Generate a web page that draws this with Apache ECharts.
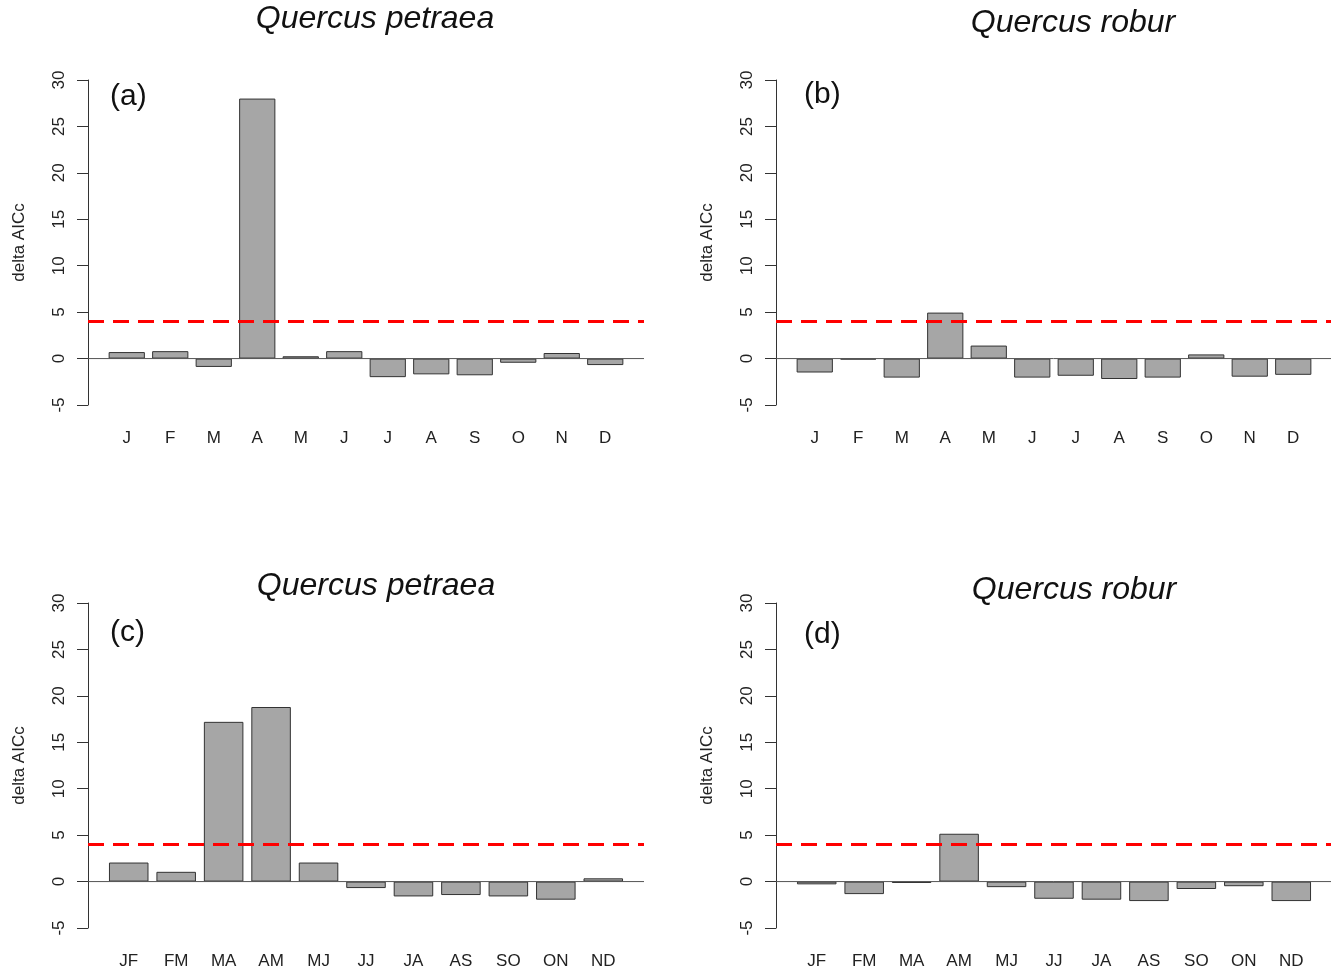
<!DOCTYPE html>
<html>
<head>
<meta charset="utf-8">
<script src="https://cdn.jsdelivr.net/npm/echarts@6/dist/echarts.min.js"></script>
<style>
html,body{margin:0;padding:0;background:#fff;}
#chart{width:1331px;height:976px;}
</style>
</head>
<body>
<div id="chart"></div>
<script>
// ---- data ----
const months = ['J','F','M','A','M','J','J','A','S','O','N','D'];
const monthPairs = ['JF','FM','MA','AM','MJ','JJ','JA','AS','SO','ON','ND'];
const petraeaMonthly = [0.7, 0.8, -0.9, 28.0, 0.25, 0.8, -2.0, -1.7, -1.8, -0.45, 0.6, -0.7];
const roburMonthly   = [-1.5, -0.1, -2.05, 4.95, 1.4, -2.05, -1.85, -2.2, -2.05, 0.45, -1.95, -1.75];
const petraeaPairs   = [2.05, 1.05, 17.2, 18.8, 2.05, -0.7, -1.6, -1.45, -1.6, -1.95, 0.35];
const roburPairs     = [-0.3, -1.35, -0.15, 5.15, -0.6, -1.85, -1.95, -2.1, -0.8, -0.5, -2.1];
const threshold = 4;
const yMin = -5, yMax = 30, yStep = 5;
const yName = 'delta AICc';
const titles = ['Quercus petraea', 'Quercus robur', 'Quercus petraea', 'Quercus robur'];
const tags = ['(a)', '(b)', '(c)', '(d)'];

// ---- layout ----
const FONT = "'Liberation Sans', Arial, Helvetica, sans-serif";
const panels = [
  {left: 88,  top: 80,  cats: months,     vals: petraeaMonthly, title: [375, 19],  tag: [110, 97]},
  {left: 776, top: 80,  cats: months,     vals: roburMonthly,   title: [1073, 23], tag: [804, 95]},
  {left: 88,  top: 603, cats: monthPairs, vals: petraeaPairs,   title: [376, 586], tag: [110, 633]},
  {left: 776, top: 603, cats: monthPairs, vals: roburPairs,     title: [1074, 590], tag: [804, 635]}
];
const W = 556, H = 325, PAD = 17;

const grid = [], xAxis = [], yAxis = [], series = [], graphic = [];
panels.forEach((p, k) => {
  const go = 2 * k, gi = 2 * k + 1;
  grid.push({left: p.left, top: p.top, width: W, height: H});
  grid.push({left: p.left + PAD, top: p.top, width: W - 2 * PAD, height: H});
  xAxis.push({type: 'value', gridIndex: go, min: 0, max: 1, show: false});
  yAxis.push({
    type: 'value', gridIndex: go, min: yMin, max: yMax, interval: yStep,
    axisLine: {show: true, lineStyle: {color: '#333', width: 1}},
    axisTick: {show: true, length: 11, lineStyle: {color: '#333', width: 1}},
    axisLabel: {rotate: 90, fontSize: 17, margin: 20, color: '#222', fontFamily: FONT},
    splitLine: {show: false},
    name: yName, nameLocation: 'middle', nameRotate: 90, nameGap: 60,
    nameTextStyle: {fontSize: 17, color: '#222', fontFamily: FONT}
  });
  xAxis.push({
    type: 'category', gridIndex: gi, data: p.cats,
    axisLine: {show: false}, axisTick: {show: false},
    axisLabel: {fontSize: 17, margin: 25, color: '#222', fontFamily: FONT, interval: 0}
  });
  yAxis.push({type: 'value', gridIndex: gi, min: yMin, max: yMax, interval: yStep, show: false});

  series.push({
    type: 'bar', xAxisIndex: gi, yAxisIndex: gi, data: p.vals,
    barWidth: '83.3%', silent: true, z: 2,
    itemStyle: {color: '#A6A6A6', borderColor: '#333', borderWidth: 1}
  });
  series.push({
    type: 'line', xAxisIndex: go, yAxisIndex: go, data: [[0, 0], [1, 0]],
    showSymbol: false, silent: true, z: 5,
    lineStyle: {color: '#555', width: 1}
  });
  series.push({
    type: 'line', xAxisIndex: go, yAxisIndex: go, data: [[0, threshold], [1, threshold]],
    showSymbol: false, silent: true, z: 6,
    lineStyle: {color: '#FF0000', width: 3, type: [16, 9], cap: 'butt'}
  });

  graphic.push({
    type: 'text', x: p.title[0], y: p.title[1],
    style: {text: titles[k], font: 'italic 32px ' + FONT, fill: '#111', align: 'center', verticalAlign: 'middle'}
  });
  graphic.push({
    type: 'text', x: p.tag[0], y: p.tag[1],
    style: {text: tags[k], font: '30px ' + FONT, fill: '#111', align: 'left', verticalAlign: 'middle'}
  });
});

const chart = echarts.init(document.getElementById('chart'), null, {renderer: 'canvas'});
chart.setOption({
  animation: false,
  backgroundColor: '#fff',
  textStyle: {fontFamily: FONT},
  grid, xAxis, yAxis, series, graphic
});
</script>
</body>
</html>
